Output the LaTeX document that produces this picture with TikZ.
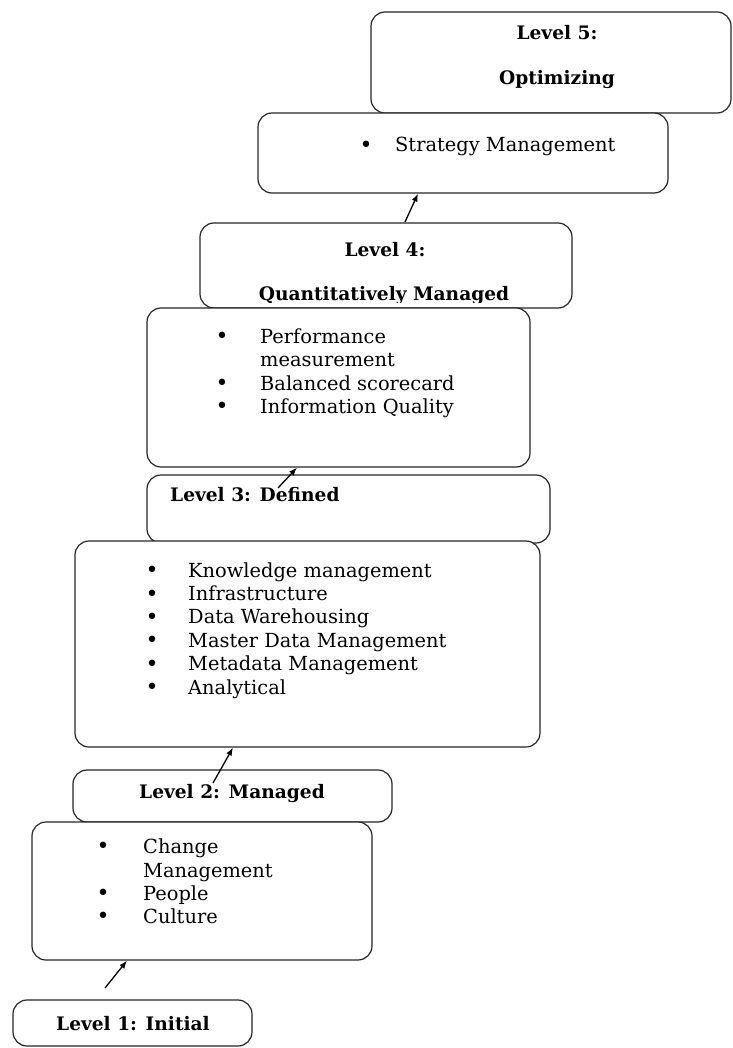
\documentclass[tikz,border=0pt]{standalone}
\usepackage{fontspec}
\setmainfont{DejaVu Serif}
\usetikzlibrary{arrows.meta}
\begin{document}
\begin{tikzpicture}
[
  x=1pt, y=-1pt,
  lbox/.style ={draw=black!85, line width=1.2pt, rounded corners=14pt, fill=white, inner sep=0pt},
  head/.style ={font=\fontsize{18.6}{22}\selectfont\bfseries, inner sep=0pt, text height=14pt, text depth=4pt},
  item/.style ={font=\fontsize{19.4}{22}\selectfont, inner sep=0pt, anchor=west, text height=14pt, text depth=4pt},
  dot/.style  ={font=\fontsize{22}{22}\selectfont, inner sep=0pt},
  up/.style   ={-{Latex[length=8pt,width=6pt]}, line width=1.3pt},
]
\useasboundingbox (0,0) rectangle (732,1048);

% level 5
\node[lbox, minimum width=360pt, minimum height=101pt] (l5) at (551,62.5) {};
\node[head] (l5a) at (557,35) {Level 5:};
\node[head] (l5b) at (557,80) {Optimizing};

\node[lbox, minimum width=410pt, minimum height=80pt] (s) at (463,153) {};
\node[dot] (sd) at (366,147) {\textbullet};
\node[item] (s1) at (395,147) {Strategy Management};

% level 4
\node[lbox, minimum width=372pt, minimum height=85pt] (l4) at (386,265.5) {};
\node[head] (l4a) at (385,252) {Level 4:};
\begin{scope}
  \clip (200,223) rectangle (572,302);
  \node[head] (l4b) at (384,295) {Quantitatively Managed};
\end{scope}

\node[lbox, minimum width=383pt, minimum height=159pt] (p) at (338.5,387.5) {};
\foreach \yy in {338,385,408}
  \node[dot] at (222,\yy) {\textbullet};
\node[item] (p1) at (260,338) {Performance};
\node[item] (p2) at (260,361) {measurement};
\node[item] (p3) at (260,385) {Balanced scorecard};
\node[item] (p4) at (260,408) {Information Quality};

% level 3
\node[lbox, minimum width=403pt, minimum height=68pt] (l3) at (348.5,509) {};
\node[head, anchor=west] (l3a) at (170,496) {Level 3: Defined};

\node[lbox, minimum width=465pt, minimum height=206pt] (k) at (307.5,644) {};
\foreach \t [count=\i] in {Knowledge management, Infrastructure, Data Warehousing,
    Master Data Management, Metadata Management, Analytical} {
  \pgfmathsetmacro{\yy}{572+23.4*(\i-1)}
  \node[dot] at (152,\yy) {\textbullet};
  \node[item] (k\i) at (188,\yy) {\t};
}

% level 2
\node[lbox, minimum width=319pt, minimum height=52pt] (l2) at (232.5,796) {};
\node[head] (l2a) at (232,793) {Level 2: Managed};

\node[lbox, minimum width=340pt, minimum height=138pt] (c) at (202,891) {};
\foreach \yy in {848,895,918}
  \node[dot] at (103,\yy) {\textbullet};
\node[item] (c1) at (143,848) {Change};
\node[item] (c2) at (143,872) {Management};
\node[item] (c3) at (143,895) {People};
\node[item] (c4) at (143,918) {Culture};

% level 1
\node[lbox, minimum width=239pt, minimum height=46pt] (l1) at (132.5,1023) {};
\node[head] (l1a) at (133,1025) {Level 1: Initial};

% arrows
\coordinate (a1) at (105,988);
\coordinate (a2) at (213,783);
\coordinate (a3) at (278,488);
\coordinate (a4) at (405,222);
\draw[up] (a1) -- ([xshift=-75pt]c.south);
\draw[up] (a2) -- ([xshift=-74.5pt]k.south);
\draw[up] (a3) -- ([xshift=-41.5pt]p.south);
\draw[up] (a4) -- ([xshift=-45pt]s.south);

\end{tikzpicture}
\end{document}
